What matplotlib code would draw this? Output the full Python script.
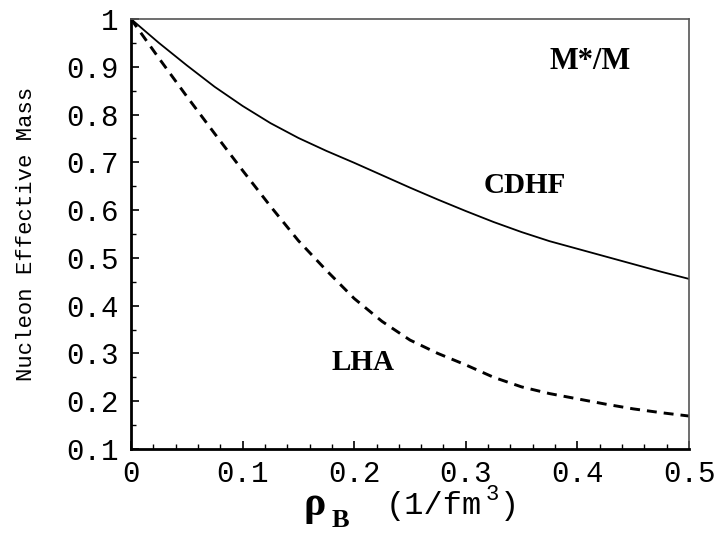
import matplotlib
matplotlib.use("Agg")
import matplotlib.pyplot as plt
from matplotlib.ticker import MultipleLocator, FixedLocator

rho = [0, 0.025, 0.05, 0.075, 0.1, 0.125, 0.15, 0.175, 0.2, 0.225, 0.25,
       0.275, 0.3, 0.325, 0.35, 0.375, 0.4, 0.425, 0.45, 0.475, 0.5]
cdhf = [1.0, 0.950, 0.903, 0.858, 0.818, 0.782, 0.751, 0.724, 0.699, 0.673, 0.647,
        0.622, 0.598, 0.575, 0.554, 0.535, 0.519, 0.503, 0.487, 0.471, 0.456]
lha = [1.0, 0.918, 0.838, 0.760, 0.683, 0.608, 0.536, 0.474, 0.415, 0.367, 0.328,
       0.300, 0.276, 0.250, 0.230, 0.216, 0.205, 0.194, 0.184, 0.176, 0.169]

xticks = [0, 0.1, 0.2, 0.3, 0.4, 0.5]
xticklabels = ["0", "0.1", "0.2", "0.3", "0.4", "0.5"]
yticks = [0.1, 0.2, 0.3, 0.4, 0.5, 0.6, 0.7, 0.8, 0.9, 1.0]
yticklabels = ["0.1", "0.2", "0.3", "0.4", "0.5", "0.6", "0.7", "0.8", "0.9", "1"]

fig = plt.figure(figsize=(7.22, 5.33), dpi=100)
ax = fig.add_axes([0.1814, 0.1576, 0.7729, 0.8068])

ax.plot(rho, cdhf, color="black", lw=1.3, solid_joinstyle="round")
ax.plot(rho, lha, color="black", lw=2.1, dashes=(3.4, 2.4))

ax.set_xlim(0, 0.5)
ax.set_ylim(0.1, 1.0)

ax.xaxis.set_major_locator(FixedLocator(xticks))
ax.set_xticklabels(xticklabels)
ax.yaxis.set_major_locator(FixedLocator(yticks))
ax.set_yticklabels(yticklabels)
ax.xaxis.set_minor_locator(MultipleLocator(0.02))
ax.yaxis.set_minor_locator(MultipleLocator(0.05))

for s in ax.spines.values():
    s.set_linewidth(1.2)
    s.set_color("#555555")
ax.spines["left"].set_linewidth(2.0)
ax.spines["left"].set_color("black")
ax.spines["bottom"].set_linewidth(2.0)
ax.spines["bottom"].set_color("black")

mono = "Liberation Mono"
ax.tick_params(which="major", direction="in", length=6, width=1.2, top=False, right=False)
ax.tick_params(which="minor", direction="in", length=3.5, width=1.0, top=False, right=False)
ax.tick_params(axis="y", which="major", pad=9)
ax.tick_params(axis="x", which="major", pad=8)
for lab in ax.get_xticklabels() + ax.get_yticklabels():
    lab.set_fontfamily(mono)
    lab.set_fontsize(21)

ax.set_ylabel("Nucleon Effective Mass", fontfamily=mono, fontsize=16)
ax.yaxis.set_label_coords(-0.168, 0.5)

fig.text(0.420, 0.034, "ρ", fontfamily="Liberation Serif", fontweight="bold", fontsize=30,
         ha="left", va="baseline")
fig.text(0.459, 0.012, "B", fontfamily="Liberation Serif", fontweight="bold", fontsize=19,
         ha="left", va="baseline")
fig.text(0.5346, 0.036, "(1/fm", fontfamily=mono, fontsize=23, ha="left", va="baseline")
fig.text(0.672, 0.062, "3", fontfamily=mono, fontsize=16, ha="left", va="baseline")
fig.text(0.692, 0.036, ")", fontfamily=mono, fontsize=23, ha="left", va="baseline")

ax.text(0.411, 0.91, "M*/M", fontfamily="Liberation Serif", fontweight="bold", fontsize=22,
        ha="center", va="center")
ax.text(0.353, 0.652, "CDHF", fontfamily="Liberation Serif", fontweight="bold", fontsize=21,
        ha="center", va="center")
ax.text(0.208, 0.28, "LHA", fontfamily="Liberation Serif", fontweight="bold", fontsize=21,
        ha="center", va="center")

fig.savefig("out.png", dpi=100)
